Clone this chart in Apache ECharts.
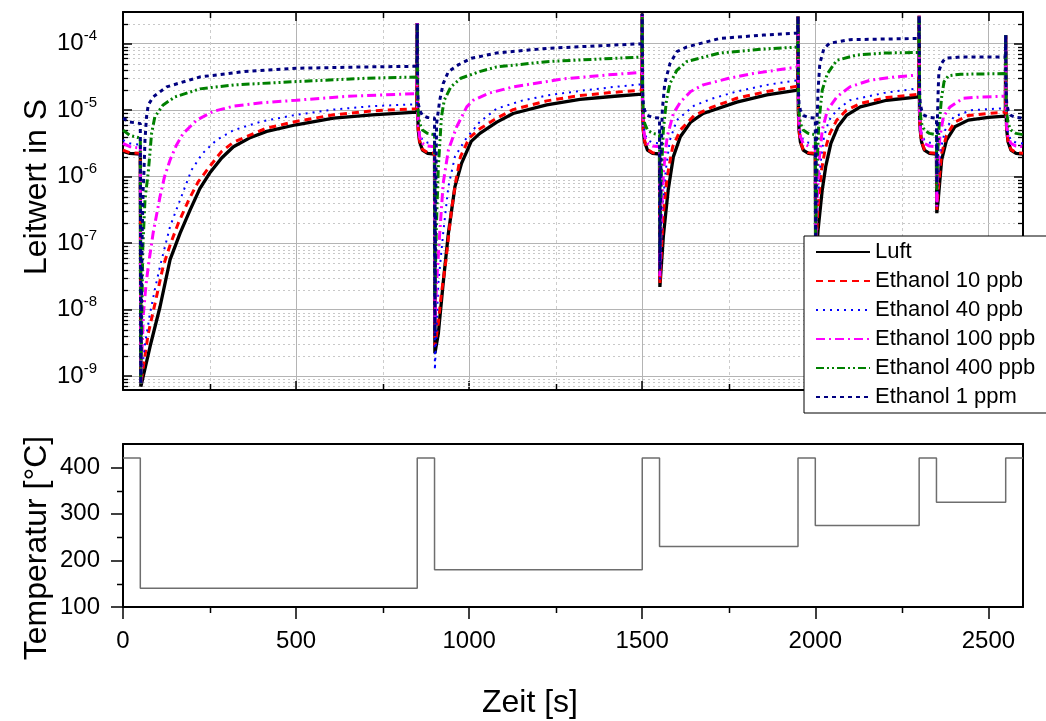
<!DOCTYPE html>
<html><head><meta charset="utf-8">
<script src="https://cdn.jsdelivr.net/npm/echarts@6/dist/echarts.min.js"></script>
<style>html,body{margin:0;padding:0;background:#fff}#c{width:1046px;height:721px}</style>
</head><body><div id="c"></div>
<script>
const FONT = '"Liberation Sans", Arial, Helvetica, sans-serif';

const seriesNames = ['Luft','Ethanol 10 ppb','Ethanol 40 ppb','Ethanol 100 ppb','Ethanol 400 ppb','Ethanol 1 ppm'];
const seriesColors = ['#000000','#ff0000','#0000ff','#ff00ff','#008000','#000080'];

const luft = [[0,2.40e-6],[20,2.24e-6],[50,2.19e-6],
[51.5,6.92e-10],[78,2.75e-9],[107,1.10e-8],[136,5.62e-8],[165,1.41e-7],[194,3.16e-7],[222,6.61e-7],[250,1.12e-6],[285,1.91e-6],[319,2.82e-6],[365,3.80e-6],[415,4.79e-6],[500,6.03e-6],[608,7.59e-6],[720,8.51e-6],[849,9.33e-6],
[850,2.04e-4],[851,1.00e-5],[853,5.01e-6],[857,3.31e-6],[865,2.51e-6],[880,2.24e-6],[900,2.19e-6],
[901,2.19e-9],[911,4.37e-9],[925,2.51e-8],[940,1.41e-7],[959,7.08e-7],[978,1.58e-6],[1006,3.39e-6],[1031,4.47e-6],[1080,6.61e-6],[1127,8.91e-6],[1224,1.20e-5],[1320,1.45e-5],[1420,1.62e-5],[1499,1.74e-5],
[1500,2.82e-4],[1501,1.00e-5],[1503,5.01e-6],[1507,3.31e-6],[1515,2.51e-6],[1530,2.24e-6],[1550,2.19e-6],
[1551,2.19e-8],[1561,1.26e-7],[1575,6.31e-7],[1590,2.00e-6],[1610,3.98e-6],[1640,6.61e-6],[1676,8.91e-6],[1773,1.32e-5],[1860,1.70e-5],[1949,2.00e-5],
[1950,2.57e-4],[1951,1.00e-5],[1953,5.01e-6],[1957,3.31e-6],[1965,2.51e-6],[1980,2.24e-6],[2000,2.19e-6],
[2001,5.01e-8],[2008,1.58e-7],[2020,6.31e-7],[2030,1.41e-6],[2045,3.16e-6],[2065,5.62e-6],[2090,8.32e-6],[2130,1.12e-5],[2206,1.41e-5],[2299,1.58e-5],
[2300,2.63e-4],[2301,1.00e-5],[2303,5.01e-6],[2307,3.31e-6],[2315,2.51e-6],[2330,2.24e-6],[2350,2.19e-6],
[2351,2.82e-7],[2355,4.47e-7],[2365,1.78e-6],[2379,3.55e-6],[2403,5.62e-6],[2442,7.08e-6],[2500,7.76e-6],[2549,8.13e-6],
[2550,1.35e-4],[2551,1.00e-5],[2553,5.01e-6],[2557,3.31e-6],[2565,2.51e-6],[2580,2.24e-6],[2600,2.19e-6]];

const ethanol10 = [[0,2.51e-6],[20,2.29e-6],[50,2.24e-6],
[51.5,7.59e-10],[73,4.37e-9],[95,1.41e-8],[116,4.47e-8],[138,1.00e-7],[160,2.00e-7],[190,4.47e-7],[217,8.32e-7],[250,1.41e-6],[285,2.40e-6],[320,3.31e-6],[415,5.37e-6],[500,6.76e-6],[608,8.51e-6],[720,9.77e-6],[849,1.05e-5],
[850,2.04e-4],[851,1.00e-5],[853,5.01e-6],[857,3.39e-6],[865,2.57e-6],[880,2.29e-6],[900,2.24e-6],
[901,2.82e-9],[911,6.31e-9],[920,1.78e-8],[932,5.01e-8],[949,3.16e-7],[962,8.91e-7],[975,2.00e-6],[1000,3.80e-6],[1031,5.25e-6],[1080,7.59e-6],[1127,1.02e-5],[1224,1.38e-5],[1320,1.66e-5],[1420,1.86e-5],[1499,2.00e-5],
[1500,2.82e-4],[1501,1.00e-5],[1503,5.01e-6],[1507,3.39e-6],[1515,2.57e-6],[1530,2.29e-6],[1550,2.24e-6],
[1551,2.40e-8],[1560,2.51e-7],[1572,1.00e-6],[1588,2.82e-6],[1610,5.01e-6],[1650,8.32e-6],[1700,1.10e-5],[1773,1.51e-5],[1860,1.91e-5],[1949,2.29e-5],
[1950,2.57e-4],[1951,1.00e-5],[1953,5.01e-6],[1957,3.39e-6],[1965,2.57e-6],[1980,2.29e-6],[2000,2.24e-6],
[2001,5.62e-8],[2007,3.16e-7],[2018,1.26e-6],[2028,2.51e-6],[2042,4.47e-6],[2062,7.08e-6],[2090,1.00e-5],[2130,1.26e-5],[2206,1.55e-5],[2299,1.74e-5],
[2300,2.63e-4],[2301,1.00e-5],[2303,5.01e-6],[2307,3.39e-6],[2315,2.57e-6],[2330,2.29e-6],[2350,2.24e-6],
[2351,3.16e-7],[2355,6.31e-7],[2365,2.24e-6],[2379,4.17e-6],[2403,6.61e-6],[2442,8.32e-6],[2500,8.91e-6],[2549,9.33e-6],
[2550,1.35e-4],[2551,1.00e-5],[2553,5.01e-6],[2557,3.39e-6],[2565,2.57e-6],[2580,2.29e-6],[2600,2.24e-6]];

const ethanol40 = [[0,3.55e-6],[20,3.16e-6],[50,3.02e-6],
[51.5,8.91e-10],[64,3.16e-9],[78,8.71e-9],[92,2.00e-8],[107,4.47e-8],[136,1.78e-7],[165,4.47e-7],[198,1.26e-6],[230,2.24e-6],[270,3.55e-6],[320,5.01e-6],[400,6.76e-6],[500,8.51e-6],[608,1.02e-5],[720,1.15e-5],[849,1.23e-5],
[850,2.04e-4],[851,1.12e-5],[853,6.31e-6],[857,4.47e-6],[865,3.55e-6],[880,3.24e-6],[900,3.16e-6],
[901,1.23e-9],[911,2.51e-8],[925,1.41e-7],[940,7.08e-7],[959,2.00e-6],[988,3.55e-6],[1030,6.61e-6],[1079,1.05e-5],[1150,1.38e-5],[1224,1.66e-5],[1320,1.95e-5],[1420,2.24e-5],[1499,2.45e-5],
[1500,2.82e-4],[1501,1.12e-5],[1503,6.31e-6],[1507,4.47e-6],[1515,3.55e-6],[1530,3.24e-6],[1550,3.16e-6],
[1551,2.82e-8],[1558,3.16e-7],[1568,1.26e-6],[1580,3.55e-6],[1600,7.08e-6],[1650,1.17e-5],[1700,1.48e-5],[1773,1.91e-5],[1860,2.40e-5],[1949,2.82e-5],
[1950,2.57e-4],[1951,1.12e-5],[1953,6.31e-6],[1957,4.47e-6],[1965,3.55e-6],[1980,3.24e-6],[2000,3.16e-6],
[2001,6.31e-8],[2006,3.98e-7],[2015,1.58e-6],[2025,3.98e-6],[2040,7.08e-6],[2062,1.00e-5],[2100,1.41e-5],[2200,1.82e-5],[2299,2.14e-5],
[2300,2.63e-4],[2301,1.12e-5],[2303,6.31e-6],[2307,4.47e-6],[2315,3.55e-6],[2330,3.24e-6],[2350,3.16e-6],
[2351,3.55e-7],[2354,7.94e-7],[2362,2.51e-6],[2375,5.01e-6],[2400,7.94e-6],[2450,1.00e-5],[2549,1.07e-5],
[2550,1.35e-4],[2551,1.12e-5],[2553,6.31e-6],[2557,4.47e-6],[2565,3.55e-6],[2580,3.24e-6],[2600,3.16e-6]];

const ethanol100 = [[0,3.16e-6],[20,2.82e-6],[50,2.69e-6],
[51.5,7.59e-10],[59,8.71e-9],[66,2.24e-8],[73,4.47e-8],[87,1.41e-7],[107,5.01e-7],[120,1.00e-6],[136,1.78e-6],[155,3.02e-6],[174,4.47e-6],[213,7.08e-6],[260,9.55e-6],[320,1.15e-5],[400,1.29e-5],[500,1.41e-5],[650,1.62e-5],[849,1.78e-5],
[850,2.04e-4],[851,1.12e-5],[853,5.62e-6],[857,3.98e-6],[865,3.16e-6],[880,2.88e-6],[900,2.82e-6],
[901,6.31e-9],[906,2.51e-8],[915,1.41e-7],[925,7.94e-7],[940,2.51e-6],[964,5.62e-6],[993,1.12e-5],[1012,1.41e-5],[1060,1.82e-5],[1127,2.24e-5],[1271,2.95e-5],[1400,3.39e-5],[1499,3.72e-5],
[1500,2.82e-4],[1501,1.12e-5],[1503,5.62e-6],[1507,3.98e-6],[1515,3.16e-6],[1530,2.88e-6],[1550,2.82e-6],
[1551,3.16e-8],[1555,2.51e-7],[1562,1.26e-6],[1572,3.98e-6],[1590,8.91e-6],[1610,1.32e-5],[1640,1.91e-5],[1676,2.40e-5],[1750,3.02e-5],[1820,3.55e-5],[1949,4.47e-5],
[1950,2.57e-4],[1951,1.12e-5],[1953,5.62e-6],[1957,3.98e-6],[1965,3.16e-6],[1980,2.88e-6],[2000,2.82e-6],
[2001,6.31e-8],[2004,3.16e-7],[2010,1.58e-6],[2020,5.01e-6],[2035,1.00e-5],[2062,1.58e-5],[2100,2.24e-5],[2158,2.82e-5],[2230,3.16e-5],[2299,3.39e-5],
[2300,2.63e-4],[2301,1.12e-5],[2303,5.62e-6],[2307,3.98e-6],[2315,3.16e-6],[2330,2.88e-6],[2350,2.82e-6],
[2351,3.55e-7],[2354,1.26e-6],[2360,3.98e-6],[2370,7.94e-6],[2389,1.12e-5],[2427,1.51e-5],[2480,1.58e-5],[2549,1.62e-5],
[2550,1.35e-4],[2551,1.12e-5],[2553,5.62e-6],[2557,3.98e-6],[2565,3.16e-6],[2580,2.88e-6],[2600,2.82e-6]];

const ethanol400 = [[0,5.01e-6],[20,4.17e-6],[50,3.80e-6],
[51.5,7.59e-10],[54,6.31e-9],[57,7.94e-8],[63.5,4.47e-7],[73,1.17e-6],[82.6,4.47e-6],[92,7.94e-6],[116,1.20e-5],[150,1.58e-5],[222,2.09e-5],[320,2.40e-5],[500,2.69e-5],[700,3.02e-5],[849,3.16e-5],
[850,2.04e-4],[851,1.58e-5],[853,8.91e-6],[857,6.31e-6],[865,5.01e-6],[880,4.47e-6],[900,4.27e-6],
[901,1.58e-8],[905,1.58e-7],[911,1.41e-6],[920,7.94e-6],[928,1.41e-5],[947,2.24e-5],[976,3.02e-5],[1030,3.80e-5],[1079,4.47e-5],[1224,5.37e-5],[1380,5.89e-5],[1499,6.31e-5],
[1500,2.82e-4],[1501,1.58e-5],[1503,8.91e-6],[1507,6.31e-6],[1515,5.01e-6],[1530,4.47e-6],[1550,4.27e-6],
[1551,7.94e-8],[1555,1.00e-6],[1561,5.01e-6],[1570,1.41e-5],[1580,2.51e-5],[1600,3.98e-5],[1628,5.37e-5],[1724,7.24e-5],[1850,8.32e-5],[1949,8.91e-5],
[1950,2.57e-4],[1951,1.58e-5],[1953,8.91e-6],[1957,6.31e-6],[1965,5.01e-6],[1980,4.47e-6],[2000,4.27e-6],
[2001,1.00e-7],[2004,1.00e-6],[2010,6.31e-6],[2020,2.00e-5],[2035,3.55e-5],[2062,5.62e-5],[2120,6.76e-5],[2200,7.24e-5],[2299,7.41e-5],
[2300,2.63e-4],[2301,1.58e-5],[2303,8.91e-6],[2307,6.31e-6],[2315,5.01e-6],[2330,4.47e-6],[2350,4.27e-6],
[2351,6.31e-7],[2353,2.00e-6],[2358,6.31e-6],[2365,1.58e-5],[2372,2.69e-5],[2385,3.31e-5],[2420,3.47e-5],[2549,3.55e-5],
[2550,1.35e-4],[2551,1.58e-5],[2553,8.91e-6],[2557,6.31e-6],[2565,5.01e-6],[2580,4.47e-6],[2600,4.27e-6]];

const ethanol1ppm = [[0,7.59e-6],[20,6.61e-6],[50,6.31e-6],
[51.5,7.59e-10],[53,1.00e-8],[55,1.00e-7],[58,6.31e-7],[60,1.00e-6],[63.5,3.55e-6],[68,7.94e-6],[73,1.20e-5],[87,1.58e-5],[126,2.24e-5],[222,3.16e-5],[350,3.80e-5],[500,4.27e-5],[700,4.47e-5],[849,4.57e-5],
[850,2.04e-4],[851,2.00e-5],[853,1.26e-5],[857,1.00e-5],[865,8.32e-6],[880,7.76e-6],[900,7.59e-6],
[901,3.98e-9],[903,3.16e-7],[906,6.31e-6],[915,1.41e-5],[925,2.51e-5],[940,3.80e-5],[968,4.79e-5],[1006,6.03e-5],[1079,7.24e-5],[1224,8.51e-5],[1380,9.33e-5],[1499,1.00e-4],
[1500,2.82e-4],[1501,2.00e-5],[1503,1.26e-5],[1507,1.00e-5],[1515,8.32e-6],[1530,7.76e-6],[1550,7.59e-6],
[1551,3.98e-8],[1554,1.58e-6],[1558,1.00e-5],[1565,2.51e-5],[1580,5.01e-5],[1600,7.59e-5],[1628,8.91e-5],[1724,1.20e-4],[1850,1.35e-4],[1949,1.45e-4],
[1950,2.57e-4],[1951,2.00e-5],[1953,1.26e-5],[1957,1.00e-5],[1965,8.32e-6],[1980,7.76e-6],[2000,7.59e-6],
[2001,1.00e-7],[2003,3.16e-6],[2008,2.00e-5],[2013,5.01e-5],[2025,8.51e-5],[2042,1.02e-4],[2100,1.15e-4],[2299,1.20e-4],
[2300,2.63e-4],[2301,2.00e-5],[2303,1.26e-5],[2307,1.00e-5],[2315,8.32e-6],[2330,7.76e-6],[2350,7.59e-6],
[2351,7.94e-7],[2353,7.94e-6],[2355,2.00e-5],[2357,3.80e-5],[2364,5.01e-5],[2375,6.03e-5],[2420,6.31e-5],[2549,6.31e-5],
[2550,1.35e-4],[2551,2.00e-5],[2553,1.26e-5],[2557,1.00e-5],[2565,8.32e-6],[2580,7.76e-6],[2600,7.59e-6]];

const temperatur = [[0,420],[50,420],[50,140],[850,140],[850,420],[900,420],[900,180],[1500,180],[1500,420],[1550,420],[1550,230],[1950,230],[1950,420],[2000,420],[2000,275],[2300,275],[2300,420],[2350,420],[2350,325],[2550,325],[2550,420],[2600,420]];

const xRange = [0, 2600], xStep = 500;
const xMinor = [250, 750, 1250, 1750, 2250];
const gRange = [6.15e-10, 3.0e-4];
const tRange = [100, 450], tStep = 100;
const tMinor = [150, 250, 350];

const seriesData = [luft, ethanol10, ethanol40, ethanol100, ethanol400, ethanol1ppm];
const seriesWidths = [3.3, 3, 2, 3, 3, 3];
const seriesDash = ['solid', [7,5], [2,5], [9,4,2,4], [8,3,2,3,2,3], [4,4]];

// minor decade gridlines 2..9 x 10^k inside the log range
const logMinor = [];
for (let k = -10; k <= -4; k++) for (let m = 2; m <= 9; m++) {
  const v = m * Math.pow(10, k);
  if (v > gRange[0] * 1.01 && v < gRange[1] * 0.99) logMinor.push([0, v]);
}

const chart = echarts.init(document.getElementById('c'), null, {renderer: 'canvas'});
const px = v => Math.round(v) + 0.5;

const axisLineStyle = {color: '#000', width: 2};
const labelBase = {color: '#000', fontFamily: FONT, fontSize: 24};

const option = {
  animation: false,
  backgroundColor: '#fff',
  textStyle: {fontFamily: FONT},
  grid: [
    {left: 123, top: 12, width: 900, height: 378, outerBoundsMode: 'none', containLabel: false},
    {left: 123, top: 444, width: 900, height: 163, outerBoundsMode: 'none', containLabel: false}
  ],
  xAxis: [
    {gridIndex: 0, type: 'value', position: 'bottom', min: xRange[0], max: xRange[1], interval: xStep,
     axisLine: {show: true, onZero: false, lineStyle: axisLineStyle},
     axisTick: {show: true, inside: true, length: 9, lineStyle: {color: '#000', width: 1.5}},
     axisLabel: {show: false},
     splitLine: {show: true, lineStyle: {color: '#b4b4b4', width: 1}}},
    {gridIndex: 0, type: 'value', position: 'top', min: xRange[0], max: xRange[1], interval: xStep,
     axisLine: {show: true, onZero: false, lineStyle: axisLineStyle},
     axisTick: {show: true, inside: true, length: 9, lineStyle: {color: '#000', width: 1.5}},
     axisLabel: {show: false}, splitLine: {show: false}},
    {gridIndex: 1, type: 'value', position: 'bottom', min: xRange[0], max: xRange[1], interval: xStep,
     axisLine: {show: true, onZero: false, lineStyle: axisLineStyle},
     axisTick: {show: true, inside: false, length: 12, lineStyle: {color: '#000', width: 1.5}},
     axisLabel: Object.assign({show: true, margin: 22, showMaxLabel: false,
       formatter: function (v) { return String(v); }}, labelBase),
     splitLine: {show: false}},
    {gridIndex: 1, type: 'value', position: 'top', min: xRange[0], max: xRange[1], interval: xStep,
     axisLine: {show: true, onZero: false, lineStyle: axisLineStyle},
     axisTick: {show: false}, axisLabel: {show: false}, splitLine: {show: false}}
  ],
  yAxis: [
    {gridIndex: 0, type: 'log', logBase: 10, position: 'left', min: gRange[0], max: gRange[1],
     axisLine: {show: true, onZero: false, lineStyle: axisLineStyle},
     axisTick: {show: true, inside: true, length: 9, lineStyle: {color: '#000', width: 1.5}},
     axisLabel: {show: true, margin: 26, showMinLabel: true, showMaxLabel: true,
       formatter: function (v) {
         const e = Math.log10(v); const r = Math.round(e);
         if (Math.abs(e - r) > 0.02) return '';
         return '{b|10}{s|' + r + '}';
       },
       rich: {
         b: {fontSize: 24, fontFamily: FONT, color: '#000', lineHeight: 30},
         s: {fontSize: 15, fontFamily: FONT, color: '#000', lineHeight: 16, verticalAlign: 'top'}
       }},
     splitLine: {show: true, lineStyle: {color: '#b4b4b4', width: 1}}},
    {gridIndex: 0, type: 'log', logBase: 10, position: 'right', min: gRange[0], max: gRange[1],
     axisLine: {show: true, onZero: false, lineStyle: axisLineStyle},
     axisTick: {show: true, inside: true, length: 9, lineStyle: {color: '#000', width: 1.5}},
     axisLabel: {show: false}, splitLine: {show: false}},
    {gridIndex: 1, type: 'value', position: 'left', min: tRange[0], max: tRange[1], interval: tStep,
     axisLine: {show: true, onZero: false, lineStyle: axisLineStyle},
     axisTick: {show: true, inside: false, length: 12, lineStyle: {color: '#000', width: 1.5}},
     axisLabel: Object.assign({show: true, margin: 23, showMaxLabel: false,
       formatter: function (v) { return String(v); }}, labelBase),
     splitLine: {show: false}},
    {gridIndex: 1, type: 'value', position: 'right', min: tRange[0], max: tRange[1], interval: tStep,
     axisLine: {show: true, onZero: false, lineStyle: axisLineStyle},
     axisTick: {show: false}, axisLabel: {show: false}, splitLine: {show: false}}
  ],
  legend: {
    data: seriesNames, orient: 'vertical', left: 804, top: 236,
    itemWidth: 54, itemHeight: 14, itemGap: 7, padding: [5, 12, 5, 11],
    backgroundColor: '#fff', borderColor: '#000', borderWidth: 1, borderRadius: 0,
    selectedMode: false, z: 20,
    itemStyle: {opacity: 0, borderWidth: 0},
    textStyle: {fontSize: 22, color: '#000', fontFamily: FONT}
  },
  graphic: [
    {type: 'text', x: 37, y: 187, rotation: Math.PI / 2,
     style: {text: 'Leitwert in S', fontSize: 32, fontFamily: FONT, fill: '#000', align: 'center', verticalAlign: 'middle'}},
    {type: 'text', x: 37, y: 548, rotation: Math.PI / 2,
     style: {text: 'Temperatur [°C]', fontSize: 32, fontFamily: FONT, fill: '#000', align: 'center', verticalAlign: 'middle'}},
    {type: 'text', x: 530, y: 703,
     style: {text: 'Zeit [s]', fontSize: 32, fontFamily: FONT, fill: '#000', align: 'center', verticalAlign: 'middle'}}
  ],
  series: []
};

// minor grid (log decades) + inside minor ticks, top panel
option.series.push({
  type: 'custom', xAxisIndex: 0, yAxisIndex: 0, z: 1, silent: true, clip: false,
  data: logMinor, encode: {x: 0, y: 1},
  renderItem: function (params, api) {
    const cs = params.coordSys;
    const y = px(api.coord([0, api.value(1)])[1]);
    return {type: 'group', children: [
      {type: 'line', shape: {x1: cs.x, y1: y, x2: cs.x + cs.width, y2: y}, style: {stroke: '#c8c8c8', lineWidth: 1, lineDash: [2, 3]}},
      {type: 'line', shape: {x1: cs.x, y1: y, x2: cs.x + 5, y2: y}, style: {stroke: '#000', lineWidth: 1.3}},
      {type: 'line', shape: {x1: cs.x + cs.width - 5, y1: y, x2: cs.x + cs.width, y2: y}, style: {stroke: '#000', lineWidth: 1.3}}
    ]};
  }
});
// minor x grid + inside minor ticks, top panel
option.series.push({
  type: 'custom', xAxisIndex: 0, yAxisIndex: 0, z: 1, silent: true, clip: false,
  data: xMinor.map(v => [v, 1e-6]), encode: {x: 0, y: 1},
  renderItem: function (params, api) {
    const cs = params.coordSys;
    const x = px(api.coord([api.value(0), 1e-6])[0]);
    return {type: 'group', children: [
      {type: 'line', shape: {x1: x, y1: cs.y, x2: x, y2: cs.y + cs.height}, style: {stroke: '#cccccc', lineWidth: 1, lineDash: [3, 3]}},
      {type: 'line', shape: {x1: x, y1: cs.y, x2: x, y2: cs.y + 6}, style: {stroke: '#000', lineWidth: 1.5}},
      {type: 'line', shape: {x1: x, y1: cs.y + cs.height - 6, x2: x, y2: cs.y + cs.height}, style: {stroke: '#000', lineWidth: 1.5}}
    ]};
  }
});
// minor ticks, bottom panel
option.series.push({
  type: 'custom', xAxisIndex: 2, yAxisIndex: 2, z: 1, silent: true, clip: false,
  data: xMinor.map(v => [v, 200]), encode: {x: 0, y: 1},
  renderItem: function (params, api) {
    const cs = params.coordSys;
    const x = px(api.coord([api.value(0), 200])[0]);
    return {type: 'line', shape: {x1: x, y1: cs.y + cs.height, x2: x, y2: cs.y + cs.height + 6}, style: {stroke: '#000', lineWidth: 1.5}};
  }
});
option.series.push({
  type: 'custom', xAxisIndex: 2, yAxisIndex: 2, z: 1, silent: true, clip: false,
  data: tMinor.map(v => [0, v]), encode: {x: 0, y: 1},
  renderItem: function (params, api) {
    const cs = params.coordSys;
    const y = px(api.coord([0, api.value(1)])[1]);
    return {type: 'line', shape: {x1: cs.x - 6, y1: y, x2: cs.x, y2: y}, style: {stroke: '#000', lineWidth: 1.5}};
  }
});

seriesNames.forEach((name, i) => {
  option.series.push({
    name: name, type: 'line', xAxisIndex: 0, yAxisIndex: 0, z: 3,
    data: seriesData[i], symbol: 'none', showSymbol: false, smooth: false,
    itemStyle: {color: seriesColors[i]},
    lineStyle: {color: seriesColors[i], width: seriesWidths[i], type: seriesDash[i]}
  });
});

option.series.push({
  name: 'Temperatur', type: 'line', xAxisIndex: 2, yAxisIndex: 2, z: 3,
  data: temperatur, symbol: 'none', showSymbol: false,
  lineStyle: {color: '#6e6e6e', width: 1.5}, itemStyle: {color: '#6e6e6e'}
});

chart.setOption(option);
</script>
</body></html>
